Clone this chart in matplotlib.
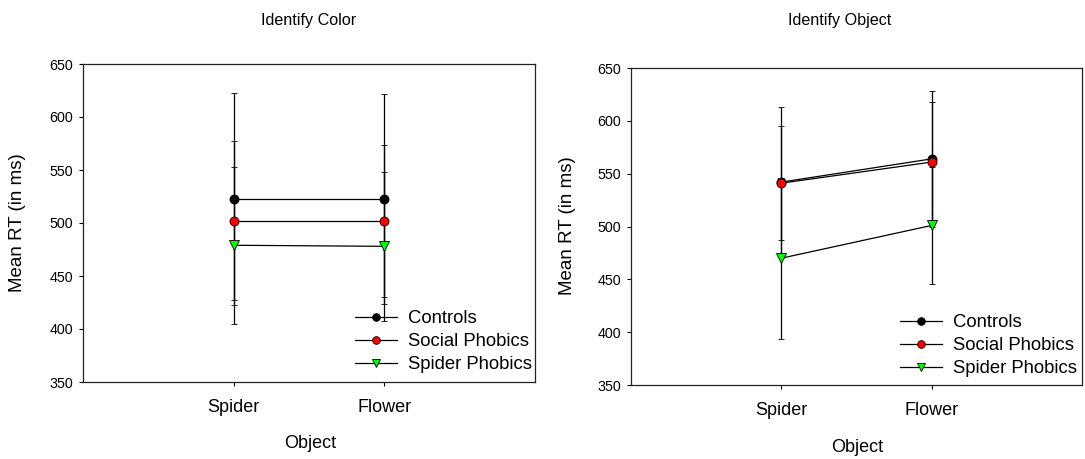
import numpy as np
import matplotlib
matplotlib.use('Agg')
import matplotlib.pyplot as plt

plt.rcParams['font.family'] = ['Liberation Sans', 'DejaVu Sans']

# Data
objects = ['Spider', 'Flower']
groups = ['Controls', 'Social Phobics', 'Spider Phobics']

color_means = {'Controls': [523, 523], 'Social Phobics': [502, 502], 'Spider Phobics': [479, 478]}
color_errs = {'Controls': [100, 99], 'Social Phobics': [75, 72], 'Spider Phobics': [74, 70]}

object_means = {'Controls': [542, 564], 'Social Phobics': [541, 561], 'Spider Phobics': [470, 501]}
object_errs = {'Controls': [71, 64], 'Social Phobics': [54, 57], 'Spider Phobics': [76, 55]}

yticks = [350, 400, 450, 500, 550, 600, 650]

# marker styles per group
styles = {
    'Controls': dict(marker='o', mfc='black'),
    'Social Phobics': dict(marker='o', mfc='red'),
    'Spider Phobics': dict(marker='v', mfc='#00ff00'),
}

W, H = 1085, 459
fig = plt.figure(figsize=(W / 100, H / 100), dpi=100)


def px_axes(x0, y0, x1, y1):
    return fig.add_axes([x0 / W, 1 - y1 / H, (x1 - x0) / W, (y1 - y0) / H])


def draw_panel(ax, means, errs, legend_xy):
    xpos = np.arange(1, len(objects) + 1)
    for g in groups:
        st = styles[g]
        ax.errorbar(xpos, means[g], yerr=errs[g], color='black', lw=0.9,
                    elinewidth=0.9, capsize=2.5, capthick=0.9,
                    marker=st['marker'], mfc=st['mfc'], mec='black', mew=0.6,
                    ms=6.5, label=g, zorder=3)
    ax.set_xlim(0, 3)
    ax.set_ylim(350, 650)
    ax.set_yticks(yticks)
    ax.set_xticks(xpos)
    ax.set_xticklabels(objects, fontsize=13)
    ax.tick_params(axis='y', direction='out', length=3, width=0.8, labelsize=10.3, pad=4)
    ax.tick_params(axis='x', direction='out', length=3, width=0.8, pad=9)
    for s in ax.spines.values():
        s.set_linewidth(0.9)
        s.set_color('#222222')
    handles, labels = ax.get_legend_handles_labels()
    handles = [h[0] for h in handles]
    fig.legend(handles, labels, loc='upper left',
               bbox_to_anchor=(legend_xy[0] / W, 1 - legend_xy[1] / H),
               frameon=False, fontsize=13.3, handlelength=2.27, handletextpad=0.6,
               labelspacing=0.33, borderpad=0, borderaxespad=0, markerscale=0.85)


ax1 = px_axes(83, 64, 535, 382)
draw_panel(ax1, color_means, color_errs, (355, 310))
ax2 = px_axes(631, 68, 1082, 385)
draw_panel(ax2, object_means, object_errs, (900, 314))

fig.text(309 / W, 1 - 20 / H, 'Identify Color', ha='center', va='center', fontsize=11.6)
fig.text(840 / W, 1 - 20 / H, 'Identify Object', ha='center', va='center', fontsize=11.6)
fig.text(310 / W, 1 - 444 / H, 'Object', ha='center', va='center', fontsize=13)
fig.text(857 / W, 1 - 448 / H, 'Object', ha='center', va='center', fontsize=13)
fig.text(18 / W, 1 - 223 / H, 'Mean RT (in ms)', ha='center', va='center', rotation=90, fontsize=13.5)
fig.text(567 / W, 1 - 226 / H, 'Mean RT (in ms)', ha='center', va='center', rotation=90, fontsize=13.5)

fig.savefig('out.png', dpi=100)
